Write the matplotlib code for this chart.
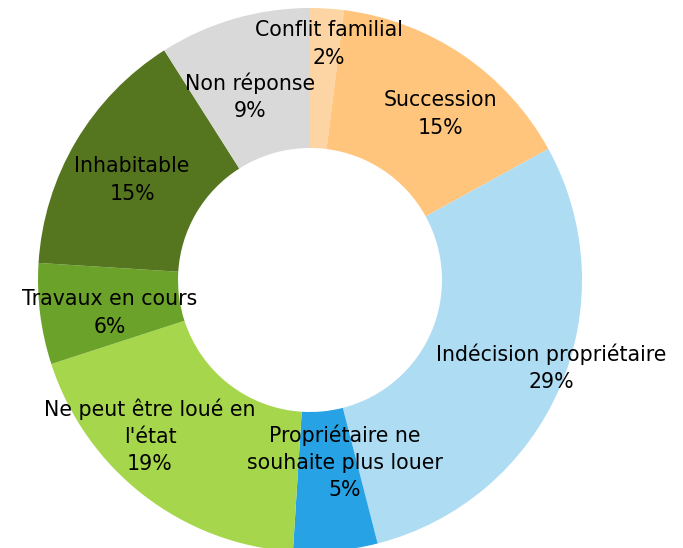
import matplotlib
matplotlib.use("Agg")
import matplotlib.pyplot as plt

labels = ["Conflit familial", "Succession", "Indécision propriétaire",
          "Propriétaire ne\nsouhaite plus louer", "Ne peut être loué en\nl'état",
          "Travaux en cours", "Inhabitable", "Non réponse"]
values = [2, 15, 29, 5, 19, 6, 15, 9]
colors = ["#FDD5A5", "#FFC57D", "#ADDCF3", "#27A2E4", "#A6D64B",
          "#6BA22A", "#55761E", "#D9D9D9"]
# label anchor positions in pixels (x, y from top)
label_pos = [(329, 44), (440, 114), (551, 368), (345, 462),
             (150, 436), (110, 313), (132, 180), (250, 97)]

W, H = 683, 548
fig = plt.figure(figsize=(W / 100, H / 100), dpi=100)
ax = fig.add_axes([0, 0, 1, 1])

ax.pie(values, colors=colors, startangle=90, counterclock=False,
       center=(310, H - 280), radius=272,
       wedgeprops=dict(width=140, linewidth=0))
ax.set_xlim(0, W)
ax.set_ylim(0, H)
ax.set_aspect("equal")
ax.axis("off")

for lab, v, (px, py) in zip(labels, values, label_pos):
    ax.text(px, H - py, f"{lab}\n{v}%", ha="center", va="center",
            fontsize=14.8, linespacing=1.45, color="black")

fig.savefig("out.png", dpi=100)
